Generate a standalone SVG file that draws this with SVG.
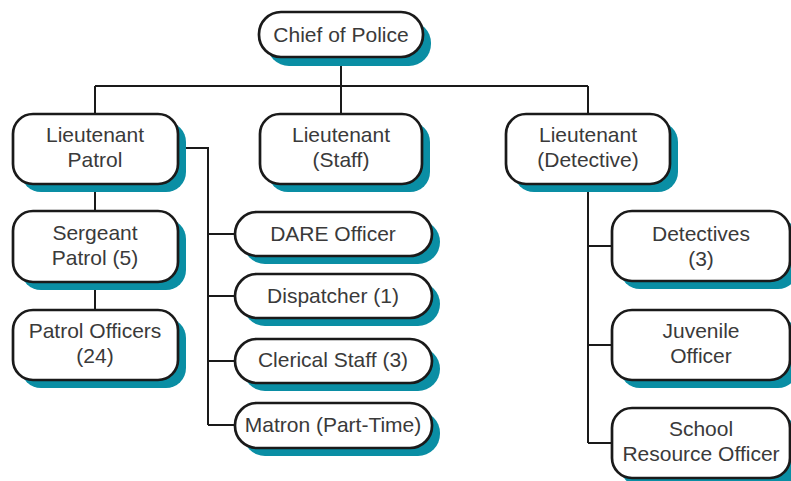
<svg xmlns="http://www.w3.org/2000/svg" width="791" height="481" viewBox="0 0 791 481">
<style>
.sh{fill:#0a8ea4}
.bx{fill:#fff;stroke:#1a1a1a;stroke-width:2.7}
.t{font-family:"Liberation Sans",Arial,sans-serif;font-size:21px;fill:#3a3a3a;text-anchor:middle}
.c{fill:none;stroke:#1a1a1a;stroke-width:2}
</style>
<rect width="791" height="481" fill="#fff"/>
<g id="connectors">
<path class="c" d="M341 57V86M95 86H588M95 86V114M341 86V114M588 86V114"/>
<path class="c" d="M95 184V211M95 282V310"/>
<path class="c" d="M178 148H208V425M208 234H235M208 296H235M208 361H235M208 425H235"/>
<path class="c" d="M588 184V443M588 246H612M588 345H612M588 443H612"/>
</g>
<g id="chief"><rect class="sh" x="267" y="21" width="164" height="45" rx="22"/><rect class="bx" x="259" y="12" width="164" height="45" rx="22"/><text class="t" x="341" y="42">Chief of Police</text></g>
<g id="lt-patrol"><rect class="sh" x="21" y="122" width="165" height="70" rx="20"/><rect class="bx" x="13" y="114" width="165" height="70" rx="20"/><text class="t" x="95" y="142">Lieutenant</text><text class="t" x="95" y="167">Patrol</text></g>
<g id="lt-staff"><rect class="sh" x="268" y="122" width="162" height="70" rx="20"/><rect class="bx" x="260" y="114" width="162" height="70" rx="20"/><text class="t" x="341" y="142">Lieutenant</text><text class="t" x="341" y="167">(Staff)</text></g>
<g id="lt-detective"><rect class="sh" x="514" y="122" width="164" height="70" rx="20"/><rect class="bx" x="506" y="114" width="164" height="70" rx="20"/><text class="t" x="588" y="142">Lieutenant</text><text class="t" x="588" y="167">(Detective)</text></g>
<g id="sergeant"><rect class="sh" x="21" y="219" width="165" height="71" rx="20"/><rect class="bx" x="13" y="211" width="165" height="71" rx="20"/><text class="t" x="95" y="240">Sergeant</text><text class="t" x="95" y="265">Patrol (5)</text></g>
<g id="patrol-officers"><rect class="sh" x="21" y="318" width="165" height="70" rx="20"/><rect class="bx" x="13" y="310" width="165" height="70" rx="20"/><text class="t" x="95" y="338">Patrol Officers</text><text class="t" x="95" y="363">(24)</text></g>
<g id="dare"><rect class="sh" x="243" y="220" width="197" height="44" rx="22"/><rect class="bx" x="235" y="212" width="197" height="44" rx="22"/><text class="t" x="333" y="241">DARE Officer</text></g>
<g id="dispatcher"><rect class="sh" x="243" y="282" width="197" height="44" rx="22"/><rect class="bx" x="235" y="274" width="197" height="44" rx="22"/><text class="t" x="333" y="303">Dispatcher (1)</text></g>
<g id="clerical"><rect class="sh" x="243" y="347" width="197" height="44" rx="22"/><rect class="bx" x="235" y="339" width="197" height="44" rx="22"/><text class="t" x="333" y="367">Clerical Staff (3)</text></g>
<g id="matron"><rect class="sh" x="243" y="411" width="197" height="45" rx="22"/><rect class="bx" x="235" y="403" width="197" height="45" rx="22"/><text class="t" x="333" y="432">Matron (Part-Time)</text></g>
<g id="detectives"><rect class="sh" x="620" y="219" width="178" height="70" rx="20"/><rect class="bx" x="612" y="211" width="178" height="70" rx="20"/><text class="t" x="701" y="241">Detectives</text><text class="t" x="701" y="266">(3)</text></g>
<g id="juvenile"><rect class="sh" x="620" y="318" width="178" height="70" rx="20"/><rect class="bx" x="612" y="310" width="178" height="70" rx="20"/><text class="t" x="701" y="338">Juvenile</text><text class="t" x="701" y="363">Officer</text></g>
<g id="school"><rect class="sh" x="620" y="416" width="178" height="70" rx="20"/><rect class="bx" x="612" y="408" width="178" height="70" rx="20"/><text class="t" x="701" y="436">School</text><text class="t" x="701" y="461">Resource Officer</text></g>
</svg>
